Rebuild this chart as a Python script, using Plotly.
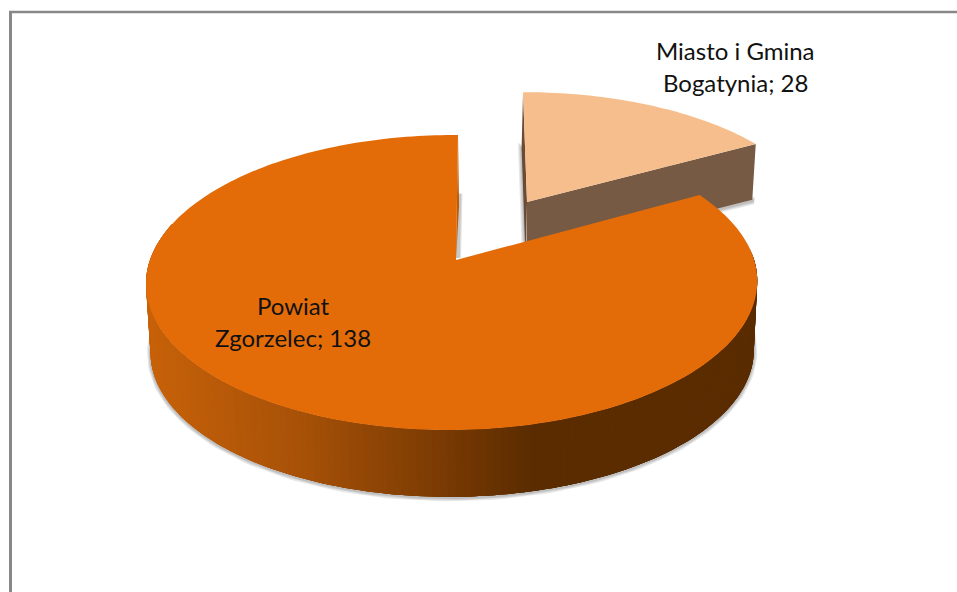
import numpy as np
import plotly.graph_objects as go

# ---- data ----
labels = ["Miasto i Gmina Bogatynia", "Powiat Zgorzelec"]
values = [28, 138]
label_lines = [["Miasto i Gmina", "Bogatynia; 28"], ["Powiat", "Zgorzelec; 138"]]

# ---- style / projection ----
W, H = 957, 592
MAIN_TOP = dict(x0=456, y0=260, a=302, b=144.06, p=0.1525, q=0.013, sh=0.016, k=1.0)
MAIN_LOW = dict(MAIN_TOP, x0=456.5, y0=329, k=0.987)
SMALL_TOP = dict(x0=527, y0=202, a=286, b=128.0, p=0.165, q=0.0, sh=-0.036, k=1.0)
SMALL_LOW = dict(SMALL_TOP, y0=257, x0=526.5, k=0.987)
C_MAIN, C_SMALL, C_WALL, C_WALL2, C_INNER = "#E36C09", "#F6BE8C", "#775A44", "#6A4B34", "#BF5C0A"
GRAD_X = [150, 300, 430, 535, 760]
GRAD_R = [200, 168, 126, 90, 90]
GRAD_G = [98, 82, 61, 44, 44]
GRAD_B = [10, 8, 4, 0, 0]
LABEL_POS = [(735, 50, 82), (293, 305, 337)]


def proj(theta, g, r=1.0):
    theta = np.asarray(theta, dtype=float)
    s, c = np.sin(theta), np.cos(theta)
    d = 1 + g["p"] * r * c + g["q"] * r * s
    u = g["k"] * g["a"] * r * s / d
    v = g["k"] * g["b"] * r * c / d
    return g["x0"] + u + g["sh"] * v, g["y0"] - v


def poly(fig, x, y, color):
    fig.add_trace(go.Scatter(
        x=list(x), y=list(y), mode="none", fill="toself", fillcolor=color,
        hoverinfo="skip", showlegend=False))


def stroke(fig, x, y, widths=(7, 4.5, 2.5), alpha=0.13):
    for w in widths:
        fig.add_trace(go.Scatter(
            x=list(x), y=list(y), mode="lines",
            line=dict(color=f"rgba(70,70,70,{alpha})", width=w),
            hoverinfo="skip", showlegend=False))


frac = values[0] / sum(values)
split = 2 * np.pi * frac

fig = go.Figure()

# --- small (exploded) slice ---
ts = np.linspace(0, split, 50)
lx, ly = proj(ts, SMALL_LOW)
ax, ay = proj([0], SMALL_LOW, r=0.0)
stroke(fig, np.r_[ax - 1, lx[0] - 1, lx + 1, ax], np.r_[ay, ly[0], ly + 1, ay])
tx, ty = proj(ts, SMALL_TOP)
cx, cy = proj([0], SMALL_TOP, r=0.0)
# inner wall at the start of the slice
poly(fig, [tx[0], lx[0] - 1, ax[0] - 1, cx[0]], [ty[0], ly[0], ay[0], cy[0]], C_WALL2)
# front wall along the end of the slice
poly(fig, [cx[0], tx[-1], lx[-1], ax[0]], [cy[0], ty[-1], ly[-1], ay[0]], C_WALL)
poly(fig, np.r_[cx, tx, cx], np.r_[cy, ty, cy], C_SMALL)

# --- large slice ---
tm = np.linspace(split, 2 * np.pi, 240)
Lx, Ly = proj(tm, MAIN_LOW)
Tx, Ty = proj(tm, MAIN_TOP)
Cx, Cy = proj([0], MAIN_TOP, r=0.0)
Ax, Ay = proj([0], MAIN_LOW, r=0.0)
front = (tm > np.radians(85)) & (tm < np.radians(285))
stroke(fig, Lx[front], Ly[front] + 1)
# shadow next to the inner wall
sx, sy = proj([2 * np.pi], MAIN_LOW)
stroke(fig, [sx[0] + 1, Cx[0] + 2], [sy[0] - 12, Cy[0] - 2], widths=(6, 3.5), alpha=0.16)
# inner wall
poly(fig, [Tx[-1], Lx[-1] + 0.6, Cx[0]], [Ty[-1], Ly[-1], Cy[0]], C_INNER)
# rim wall, shaded by horizontal position; each band overlaps the next so no seams show
idx = np.nonzero(front)[0]
for i in idx[:-1]:
    j = min(i + 4, idx[-1])
    xm = 0.5 * (Lx[i] + Lx[i + 1])
    rgb = [int(np.interp(xm, GRAD_X, g)) for g in (GRAD_R, GRAD_G, GRAD_B)]
    col = f"rgb({rgb[0]},{rgb[1]},{rgb[2]})"
    seg = np.arange(i, j + 1)
    poly(fig, np.r_[Tx[seg], Lx[seg][::-1]], np.r_[Ty[seg], Ly[seg][::-1]], col)
poly(fig, np.r_[Cx, Tx, Cx], np.r_[Cy, Ty, Cy], C_MAIN)

# --- labels, one annotation per line ---
annotations = []
for lines, pos in zip(label_lines, LABEL_POS):
    for line, yy in zip(lines, pos[1:]):
        annotations.append(dict(
            x=pos[0], y=yy, text=line, showarrow=False, xanchor="center", yanchor="middle",
            font=dict(family="Lato", size=24, color="#111111")))

fig.update_layout(
    width=W, height=H, autosize=False,
    margin=dict(l=0, r=0, t=0, b=0),
    paper_bgcolor="white", plot_bgcolor="white",
    xaxis=dict(range=[0, W], visible=False, fixedrange=True),
    yaxis=dict(range=[H, 0], visible=False, fixedrange=True),
    showlegend=False,
    annotations=annotations,
    shapes=[
        dict(type="line", x0=10.5, x1=10.5, y0=11, y1=H, line=dict(color="#888888", width=3), layer="below"),
        dict(type="line", x0=9, x1=W, y0=12, y1=12, line=dict(color="#888888", width=2.5), layer="below"),
    ],
)
fig.write_html(
    "out.html",
    config={"displayModeBar": False},
    post_script="document.body.style.margin='0';document.documentElement.style.overflow='hidden';",
)
